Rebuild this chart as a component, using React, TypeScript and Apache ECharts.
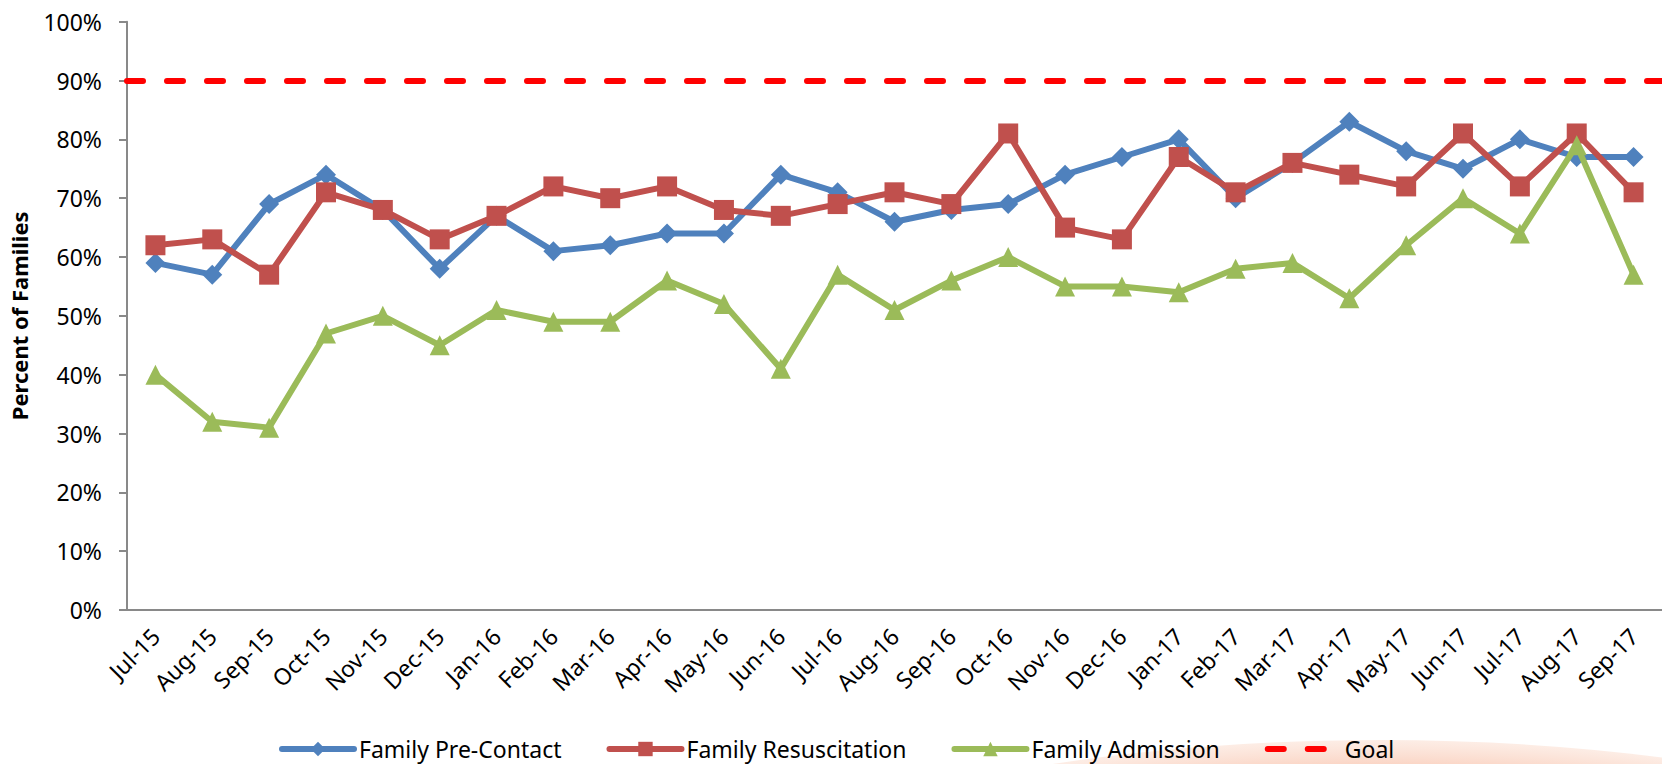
import React, { useEffect, useRef } from "react";
import * as echarts from "echarts";

const categories = [
  "Jul-15", "Aug-15", "Sep-15", "Oct-15", "Nov-15", "Dec-15",
  "Jan-16", "Feb-16", "Mar-16", "Apr-16", "May-16", "Jun-16",
  "Jul-16", "Aug-16", "Sep-16", "Oct-16", "Nov-16", "Dec-16",
  "Jan-17", "Feb-17", "Mar-17", "Apr-17", "May-17", "Jun-17",
  "Jul-17", "Aug-17", "Sep-17",
];

const preContact = [59, 57, 69, 74, 68, 58, 67, 61, 62, 64, 64, 74, 71, 66, 68, 69, 74, 77, 80, 70, 76, 83, 78, 75, 80, 77, 77];
const resuscitation = [62, 63, 57, 71, 68, 63, 67, 72, 70, 72, 68, 67, 69, 71, 69, 81, 65, 63, 77, 71, 76, 74, 72, 81, 72, 81, 71];
const admission = [40, 32, 31, 47, 50, 45, 51, 49, 49, 56, 52, 41, 57, 51, 56, 60, 55, 55, 54, 58, 59, 53, 62, 70, 64, 79, 57];
const GOAL = 90;

const FONT = "'Noto Sans', 'DejaVu Sans', sans-serif";

export default function App() {
  const ref = useRef<HTMLDivElement>(null);

  useEffect(() => {
    if (!ref.current) return;
    const chart = echarts.init(ref.current, null, { renderer: "svg" });
    const lineSeries = (name: string, data: number[], color: string, symbol: string, z: number) => ({
      name,
      type: "line",
      data,
      z,
      symbol,
      symbolSize: 20,
      showSymbol: true,
      lineStyle: { color, width: 6, cap: "round" },
      itemStyle: { color, borderColor: color, borderWidth: 0 },
    });
    chart.setOption({
      animation: false,
      backgroundColor: "#ffffff",
      textStyle: { fontFamily: FONT },
      graphic: [
        {
          type: "ellipse",
          z: -10,
          silent: true,
          shape: { cx: 1380, cy: 960, rx: 720, ry: 220 },
          style: {
            fill: new echarts.graphic.RadialGradient(0.5, 0.5, 0.5, [
              { offset: 0, color: "rgba(240,120,80,0.9)" },
              { offset: 0.8, color: "rgba(245,160,125,0.7)" },
              { offset: 1, color: "rgba(250,215,198,0.45)" },
            ]),
          },
        },
      ],
      grid: { left: 126.7, top: 21.7, width: 1541.2, height: 588.3, containLabel: false },
      legend: {
        left: 279,
        top: 735,
        padding: 0,
        itemWidth: 72,
        itemHeight: 18,
        itemGap: 45,
        lineStyle: { width: "inherit" },
        textStyle: { fontFamily: FONT, fontSize: 23, color: "#000", lineHeight: 28 },
        data: [
          "Family Pre-Contact",
          "Family Resuscitation",
          "Family Admission",
          { name: "Goal", itemStyle: { opacity: 0 } },
        ],
      },
      xAxis: {
        type: "category",
        data: categories,
        boundaryGap: true,
        axisLine: { lineStyle: { color: "#898989", width: 2 } },
        axisTick: { length: 8, lineStyle: { color: "#898989", width: 2 } },
        axisLabel: { rotate: 45, margin: 22, interval: 0, fontSize: 23, color: "#000", fontFamily: FONT },
        splitLine: { show: false },
      },
      yAxis: {
        type: "value",
        min: 0,
        max: 100,
        interval: 10,
        name: "Percent of Families",
        nameLocation: "middle",
        nameGap: 97,
        nameTextStyle: { fontFamily: FONT, fontSize: 22, fontWeight: "bold", color: "#000" },
        axisLine: { show: true, lineStyle: { color: "#898989", width: 2 } },
        axisTick: { show: true, length: 8, lineStyle: { color: "#898989", width: 2 } },
        axisLabel: { formatter: "{value}%", margin: 25, fontSize: 23, color: "#000", fontFamily: FONT },
        splitLine: { show: false },
      },
      series: [
        lineSeries("Family Pre-Contact", preContact, "#4F81BD", "diamond", 3),
        lineSeries("Family Resuscitation", resuscitation, "#C0504D", "rect", 4),
        lineSeries("Family Admission", admission, "#9BBB59", "triangle", 5),
        {
          name: "Goal",
          type: "line",
          data: [],
          z: 2,
          symbol: "none",
          itemStyle: { color: "#FF0000" },
          lineStyle: { color: "#FF0000", width: 6, type: [16, 24], cap: "round" },
          markLine: {
            silent: true,
            symbol: ["none", "none"],
            label: { show: false },
            lineStyle: { color: "#FF0000", width: 6, type: [16, 24], cap: "round" },
            data: [{ yAxis: GOAL }],
          },
        },
      ],
    });
    return () => chart.dispose();
  }, []);

  return (
    <div
      ref={ref}
      style={{ position: "fixed", left: 0, top: 0, width: 1662, height: 764, background: "#fff" }}
    />
  );
}
